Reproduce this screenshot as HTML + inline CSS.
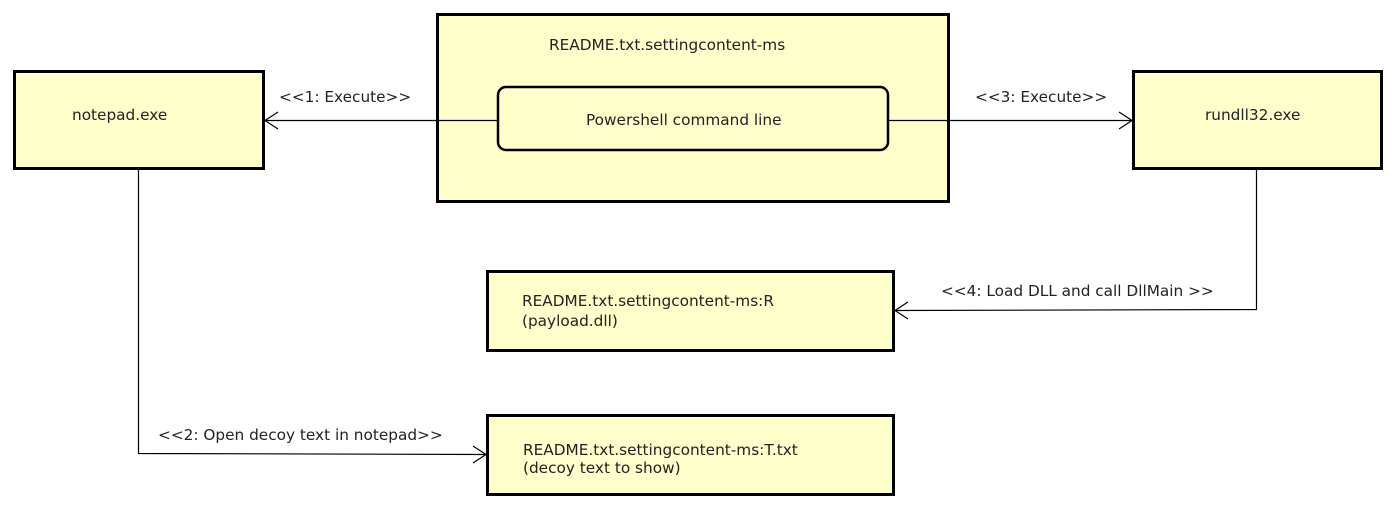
<!DOCTYPE html>
<html><head><meta charset="utf-8"><style>
html,body{margin:0;padding:0;background:#fff;}
svg text{font-family:"DejaVu Sans","Liberation Sans",sans-serif;font-size:15.3px;fill:#222;}
</style></head><body>
<svg width="1396" height="512" viewBox="0 0 1396 512" xmlns="http://www.w3.org/2000/svg">
<g fill="#ffffcc" stroke="#000" stroke-width="3">
<rect x="14.5" y="71.5" width="249" height="97"/>
<rect x="437.5" y="14.5" width="511" height="187"/>
<rect x="1133.5" y="71.5" width="248" height="97"/>
<rect x="487.5" y="271.5" width="406" height="79"/>
<rect x="487.5" y="415.5" width="406" height="79"/>
<rect x="498" y="87" width="390" height="63" rx="8" stroke-width="2.5"/>
</g>
<g fill="none" stroke="#000" stroke-width="1.2">
<line x1="265" y1="120.5" x2="497" y2="120.5"/>
<polyline points="278,112 265,120.5 278,129"/>
<line x1="889" y1="120.5" x2="1132" y2="120.5"/>
<polyline points="1119,112 1132,120.5 1119,129"/>
<polyline points="138.5,170 138.5,453.5 486,454.5"/>
<polyline points="473,446 486,454.5 473,463"/>
<polyline points="1256.5,170 1256.5,309.5 895,310.5"/>
<polyline points="908,302 895,310.5 908,319"/>
</g>
<text x="72" y="120">notepad.exe</text>
<text x="549" y="50">README.txt.settingcontent-ms</text>
<text x="586" y="125">Powershell command line</text>
<text x="1205" y="120">rundll32.exe</text>
<text x="279" y="102">&lt;&lt;1: Execute&gt;&gt;</text>
<text x="975" y="102">&lt;&lt;3: Execute&gt;&gt;</text>
<text x="941" y="296">&lt;&lt;4: Load DLL and call DllMain &gt;&gt;</text>
<text x="158" y="440">&lt;&lt;2: Open decoy text in notepad&gt;&gt;</text>
<text x="522" y="306">README.txt.settingcontent-ms:R</text>
<text x="522" y="326">(payload.dll)</text>
<text x="523" y="455">README.txt.settingcontent-ms:T.txt</text>
<text x="523" y="473">(decoy text to show)</text>
</svg>
</body></html>
